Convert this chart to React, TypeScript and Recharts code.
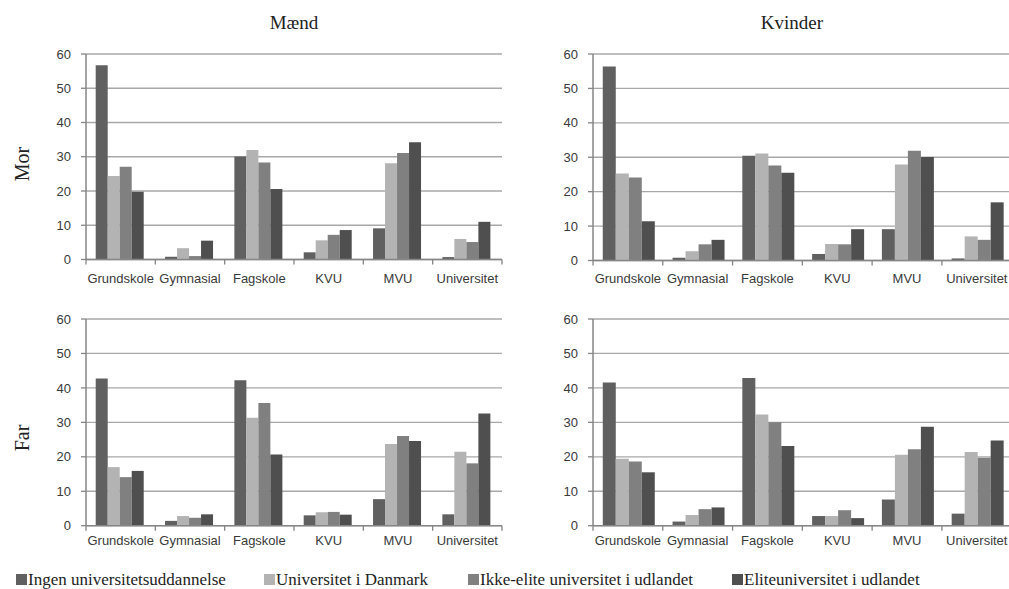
import React from 'react';
import { BarChart, Bar, XAxis, YAxis, CartesianGrid } from 'recharts';

const categories = ['Grundskole', 'Gymnasial', 'Fagskole', 'KVU', 'MVU', 'Universitet'];
const seriesNames = [
  'Ingen universitetsuddannelse',
  'Universitet i Danmark',
  'Ikke-elite universitet i udlandet',
  'Eliteuniversitet i udlandet',
];
const seriesColors = ['#606060', '#b3b3b3', '#808080', '#4f4f4f'];
const yTicks = [0, 10, 20, 30, 40, 50, 60];
const columnTitles = ['Mænd', 'Kvinder'];
const rowTitles = ['Mor', 'Far'];

// Mænd – Mor
const maendMorIngen = [56.7, 0.8, 30.1, 2.1, 9.1, 0.7];
const maendMorDk = [24.4, 3.3, 32.0, 5.6, 28.1, 6.0];
const maendMorIkke = [27.1, 1.0, 28.3, 7.2, 31.1, 5.1];
const maendMorElite = [19.8, 5.5, 20.6, 8.6, 34.2, 11.0];

// Kvinder – Mor
const kvinderMorIngen = [56.4, 0.8, 30.4, 1.9, 9.1, 0.6];
const kvinderMorDk = [25.3, 2.7, 31.1, 4.8, 27.9, 7.0];
const kvinderMorIkke = [24.1, 4.7, 27.6, 4.7, 31.9, 6.0];
const kvinderMorElite = [11.4, 6.0, 25.5, 9.1, 30.1, 16.9];

// Mænd – Far
const maendFarIngen = [42.7, 1.4, 42.2, 3.0, 7.7, 3.3];
const maendFarDk = [17.0, 2.8, 31.3, 3.9, 23.7, 21.5];
const maendFarIkke = [14.1, 2.3, 35.6, 4.0, 26.0, 18.1];
const maendFarElite = [15.9, 3.3, 20.7, 3.2, 24.6, 32.6];

// Kvinder – Far
const kvinderFarIngen = [41.6, 1.2, 42.9, 2.8, 7.6, 3.5];
const kvinderFarDk = [19.4, 3.1, 32.3, 2.8, 20.6, 21.4];
const kvinderFarIkke = [18.6, 4.8, 30.0, 4.5, 22.2, 19.7];
const kvinderFarElite = [15.5, 5.3, 23.1, 2.2, 28.7, 24.7];

const keys = ['s0', 's1', 's2', 's3'];

function buildData(series: number[][]) {
  return categories.map((c, i) => {
    const row: any = { name: c };
    series.forEach((s, j) => {
      row[keys[j]] = s[i];
    });
    return row;
  });
}

const panels = [
  { data: buildData([maendMorIngen, maendMorDk, maendMorIkke, maendMorElite]), plotLeft: 86, plotTop: 54, plotRight: 502, plotBottom: 259.5, labelDy: 23 },
  { data: buildData([kvinderMorIngen, kvinderMorDk, kvinderMorIkke, kvinderMorElite]), plotLeft: 592.7, plotTop: 53.5, plotRight: 1011.4, plotBottom: 260, labelDy: 23 },
  { data: buildData([maendFarIngen, maendFarDk, maendFarIkke, maendFarElite]), plotLeft: 86, plotTop: 319, plotRight: 502, plotBottom: 525.7, labelDy: 19 },
  { data: buildData([kvinderFarIngen, kvinderFarDk, kvinderFarIkke, kvinderFarElite]), plotLeft: 592.7, plotTop: 319, plotRight: 1011.4, plotBottom: 525.7, labelDy: 19 },
];

const sansFont = '"Liberation Sans", Arial, sans-serif';
const serifFont = '"Liberation Serif", "Times New Roman", serif';
const axisColor = '#868686';
const gridColor = '#a8a8a8';
const textColor = '#3a3a3a';

function makeTick(band: number, labelDy: number) {
  return (props: any) => {
    const { x, y, payload, index } = props;
    const left = x - band / 2;
    return (
      <g>
        <line x1={left} x2={left} y1={y} y2={y + 5} stroke={axisColor} strokeWidth={1.3} />
        {index === categories.length - 1 && (
          <line x1={x + band / 2} x2={x + band / 2} y1={y} y2={y + 5} stroke={axisColor} strokeWidth={1.3} />
        )}
        <text x={x} y={y + labelDy} textAnchor="middle" fontFamily={sansFont} fontSize={13} fill={textColor}>
          {payload.value}
        </text>
      </g>
    );
  };
}

function Panel({ p }: { p: any }) {
  const yAxisW = 50;
  const mLeft = 10;
  const mTop = 15;
  const mRight = 20;
  const xAxisH = 30;
  const mBottom = 10;
  const W = p.plotRight - p.plotLeft;
  const H = p.plotBottom - p.plotTop;
  const chartLeft = p.plotLeft - yAxisW - mLeft;
  const chartTop = p.plotTop - mTop;
  const width = mLeft + yAxisW + W + mRight;
  const height = mTop + H + xAxisH + mBottom;
  const band = W / categories.length;
  return (
    <div style={{ position: 'absolute', left: chartLeft, top: chartTop }}>
      <BarChart
        width={width}
        height={height}
        data={p.data}
        margin={{ top: mTop, right: mRight, bottom: mBottom, left: mLeft }}
        barCategoryGap="14%"
        barGap={0}
      >
        <CartesianGrid vertical={false} stroke={gridColor} strokeWidth={1.3} />
        <XAxis
          dataKey="name"
          height={xAxisH}
          tickLine={false}
          tickSize={0}
          tickMargin={0}
          axisLine={{ stroke: axisColor, strokeWidth: 1.5 }}
          tick={makeTick(band, p.labelDy)}
          interval={0}
        />
        <YAxis
          width={yAxisW}
          domain={[0, 60]}
          ticks={yTicks}
          interval={0}
          tickSize={5}
          tickMargin={10}
          tickLine={{ stroke: axisColor, strokeWidth: 1.3 }}
          axisLine={{ stroke: axisColor, strokeWidth: 1.5 }}
          tick={{ fontFamily: sansFont, fontSize: 13, fill: textColor }}
        />
        {keys.map((k, i) => (
          <Bar key={k} dataKey={k} name={seriesNames[i]} fill={seriesColors[i]} isAnimationActive={false} />
        ))}
      </BarChart>
    </div>
  );
}

const legendX = [16, 264, 468, 732];
const titleX = [294, 792];
const rowY = [164, 438];

export default function App() {
  return (
    <div
      style={{
        position: 'absolute',
        left: 0,
        top: 0,
        width: 1009,
        height: 589,
        overflow: 'hidden',
        background: '#ffffff',
      }}
    >
      {panels.map((p, i) => (
        <Panel key={i} p={p} />
      ))}
      <svg
        width={1009}
        height={589}
        style={{ position: 'absolute', left: 0, top: 0, pointerEvents: 'none' }}
      >
        {columnTitles.map((t, i) => (
          <text key={t} x={titleX[i]} y={29} textAnchor="middle" fontFamily={serifFont} fontSize={19} fill="#222">
            {t}
          </text>
        ))}
        {rowTitles.map((t, i) => (
          <text
            key={t}
            x={0}
            y={0}
            transform={`translate(29, ${rowY[i]}) rotate(-90)`}
            textAnchor="middle"
            fontFamily={serifFont}
            fontSize={20}
            fill="#222"
          >
            {t}
          </text>
        ))}
        {seriesNames.map((n, i) => (
          <g key={n}>
            <rect x={legendX[i]} y={574} width={11} height={11} fill={seriesColors[i]} />
            <text x={legendX[i] + 12} y={585} fontFamily={serifFont} fontSize={17} fill="#222">
              {n}
            </text>
          </g>
        ))}
      </svg>
    </div>
  );
}
